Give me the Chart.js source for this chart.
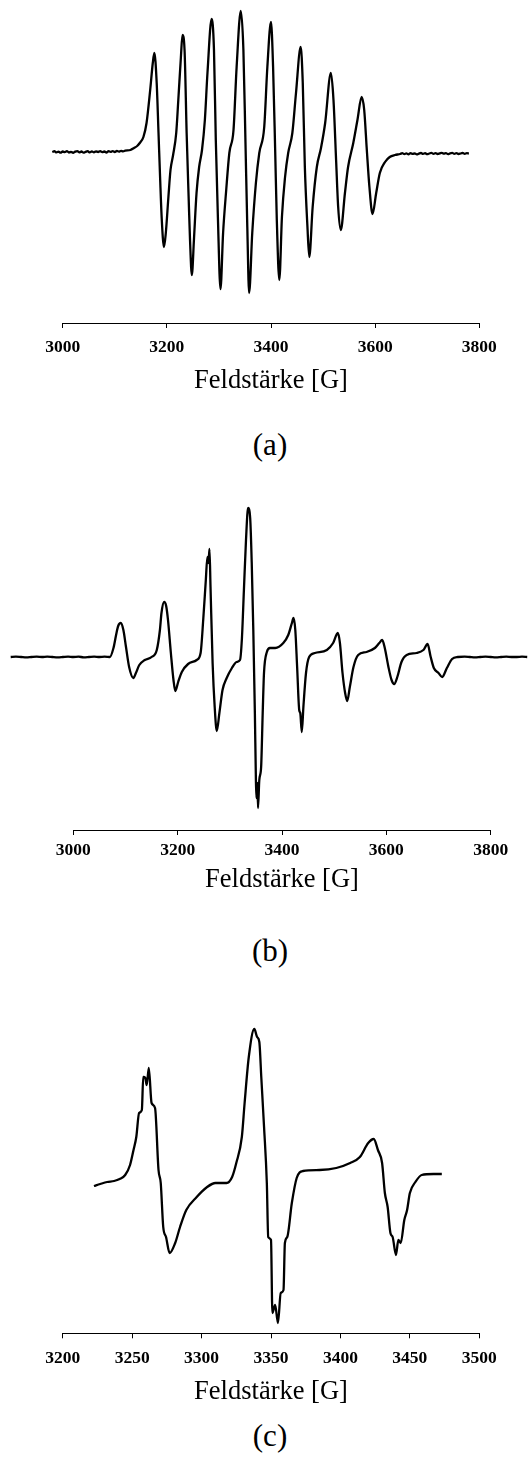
<!DOCTYPE html>
<html>
<head>
<meta charset="utf-8">
<title>ESR-Spektren</title>
<script src="https://cdn.jsdelivr.net/npm/chart.js@4"></script>
<style>
  html, body { margin: 0; padding: 0; background: #fff; }
  body { width: 528px; height: 1458px; position: relative; overflow: hidden; }
  canvas { position: absolute; left: 0; }
  .cap { position: absolute; left: 0; width: 540px; text-align: center;
         font: 31px/31px 'Liberation Serif', 'Times New Roman', serif; color: #000; }
</style>
</head>
<body>
<canvas id="chartA" width="528" height="400" style="top:0px"></canvas>
<div class="cap" style="top:429px">(a)</div>
<canvas id="chartB" width="528" height="430" style="top:470px"></canvas>
<div class="cap" style="top:935px">(b)</div>
<canvas id="chartC" width="528" height="422" style="top:990px"></canvas>
<div class="cap" style="top:1420px">(c)</div>

<script>
// tick values of the field axes [G]
const ticksWide = [3000, 3200, 3400, 3600, 3800];
const ticksNarrow = [3200, 3250, 3300, 3350, 3400, 3450, 3500];
const axisLabel = 'Feldstärke [G]';

// spectra: [field in G, signal in arbitrary units]
const spectrumA = [
  [2980,0],[2984,0.8],[2988,-0.4],[2992,0.3],[2996,-0.7],[3000,0.5],[3004,-0.2],[3008,0.9],[3012,-0.5],[3016,0.2],
  [3020,-0.8],[3024,0.4],[3028,0.9],[3032,-0.3],[3036,0.5],[3040,-0.6],[3044,0.2],[3048,0.8],[3052,-0.4],[3056,0.6],
  [3060,-0.3],[3064,0.7],[3068,0],[3072,0.9],[3076,-0.2],[3080,0.5],[3084,-0.5],[3088,0.8],[3092,0.1],[3096,0.9],
  [3100,0],[3104,1],[3108,0.4],[3112,1.2],[3116,0.6],[3120,1.3],
  [3130,2],[3137,4],[3143,6],[3148,9],[3155,15],[3161,29],[3168,62],[3173,89],[3176,99],
  [3180.5,69],[3184,19],[3187,-25],[3190,-65],[3194.5,-95],
  [3198,-81],[3203,-45],[3207,-18],[3212,-3],[3218,19],[3222,52],[3227,95],[3230,117],
  [3234,102],[3238,19],[3242,-48],[3244.5,-88],[3248,-123],
  [3252,-88],[3257,-41],[3262,-15],[3267.5,2],[3273,32],[3278,79],[3286,133],
  [3290.5,102],[3294,12],[3298,-65],[3303,-137],
  [3308,-81],[3314,-38],[3320,-1],[3328,22],[3334,85],[3342,141],
  [3347,102],[3351,9],[3354.5,-75],[3358,-141],
  [3364,-81],[3371,-31],[3377.5,-1],[3387,25],[3393,85],[3400,130],
  [3404,85],[3408,2],[3411,-65],[3416,-128],
  [3421,-65],[3427,-25],[3433,-1],[3441,19],[3448,59],[3457,105],
  [3461,69],[3465,-15],[3470,-75],[3473.5,-105],
  [3480,-55],[3488,-15],[3496,4],[3504,29],[3515,79],
  [3520,52],[3525,-8],[3529,-55],[3534,-78],
  [3542,-41],[3548,-15],[3558,9],[3566,32],[3574,55],
  [3579,42],[3584,2],[3589,-35],[3595,-62],
  [3602,-41],[3609,-21],[3619,-10],[3628,-5],[3638,-3],[3648,-2],
  [3652,-1.2],[3656,-2.1],[3660,-1.4],[3664,-2.3],[3668,-1.1],[3672,-1.9],[3676,-1.3],[3680,-2.4],
  [3684,-1.6],[3688,-1],[3692,-1.9],[3696,-1.2],[3700,-2.2],[3704,-1.5],[3708,-0.9],[3712,-1.8],
  [3716,-1.1],[3720,-2],[3724,-1.4],[3728,-0.8],[3732,-1.7],[3736,-1.2],[3740,-2.1],[3744,-1.3],
  [3748,-0.9],[3752,-1.8],[3756,-1.1],[3760,-2],[3764,-1.5],[3768,-0.8],[3772,-1.9],[3776,-1.2],[3780,-1.6]
];

const spectrumB = [
  [2880,0],[2890,0.4],[2900,0],[2910,-0.4],[2920,0],[2930,0.3],[2940,0],[2950,0.4],[2960,0],[2970,-0.3],
  [2980,0],[2990,0.4],[3000,0],[3010,0.3],[3020,-0.3],[3030,0],[3040,0.4],[3050,0],[3060,0.3],[3070,0],
  [3077,9],[3082,22],[3086,31],[3091,34],[3096,27],[3101,10],[3107,-10],[3115,-21],
  [3120,-16],[3126.5,-8],[3137,-3],[3150,0],[3160,7],[3166,27],[3169,44],[3174,55],
  [3178,51],[3181.5,37],[3187,4],[3192,-23],[3195.5,-34],
  [3201,-25],[3208,-15],[3220,-7],[3236.5,-3],[3244,4],[3249,37],[3254,77],[3257,100],[3259,94],[3261,108],
  [3263,70],[3267,-6],[3271,-50],[3275,-74],
  [3280,-56],[3286,-33],[3294,-21],[3304,-11],[3313,-5],[3319.5,-3],[3323,17],[3327,67],[3331,117],[3335,149],
  [3339,139],[3342,94],[3345,27],[3348,-56],[3350,-123],[3351,-141],[3353,-126],[3354,-151],
  [3356.5,-123],[3360,-110],[3363,-56],[3365.5,-16],[3371,5],[3377,9],[3387,9],[3402.5,14],[3412,22],[3419,34],[3422,39],
  [3425.5,27],[3429,-10],[3433,-53],[3435,-56],[3438,-75],
  [3441,-50],[3446,-16],[3452,0],[3463,4],[3486,7],[3498,14],[3507,24],
  [3511,14],[3516,-16],[3521,-36],[3525,-44],
  [3530,-30],[3537,-10],[3546,2],[3562,5],[3578,9],[3586.5,14],[3592,17],
  [3597,9],[3604,-10],[3610,-23],[3615,-27],
  [3621,-20],[3629,-5],[3639,2],[3658,4],[3671,7],[3679,13],
  [3685,0],[3691,-11],[3700,-16],[3707,-20],
  [3716,-11],[3726,-2],[3737,0],[3750,0.3],[3760,0],[3770,-0.3],[3780,0],[3790,0.3],[3800,0],
  [3810,-0.3],[3820,0],[3830,0.3],[3840,0],[3850,0],[3860,0.3],[3870,0]
];

const spectrumC = [
  [3222.5,-6],[3227,-4],[3232,-2],[3237,-1],[3241,1],[3245,5],[3248.5,15],[3251,30],[3253,43],
  [3255,67],[3257,70],[3258,103],[3259.5,102],[3260.5,95],[3262,112],
  [3264,77],[3266.5,72],[3269,10],[3270.6,-3],[3272.4,-47],[3274.4,-57],[3277,-73],
  [3281,-63],[3284.5,-47],[3289,-30],[3296.5,-17],[3304,-7],[3310,-3],[3318,-3],[3322,3],
  [3325,17],[3329,43],[3331,77],[3334,123],[3338,151],
  [3340,143],[3341.6,138],[3343,103],[3345,53],[3347,-3],[3348,-57],[3350,-60],[3351,-133],[3353,-125],[3355,-143],
  [3357,-113],[3359,-110],[3360,-63],[3361.7,-57],[3365,-23],[3368.5,2],[3373,9],[3385,10],[3397,12],
  [3407,17],[3414,23],[3420,37],[3424,41],
  [3427,30],[3430,17],[3432,-13],[3434,-27],[3436,-53],[3437.6,-57],[3440,-75],
  [3441.7,-60],[3443.4,-63],[3446,-40],[3448,-30],[3450,-13],[3454,-2],[3458.5,5],[3467,6],[3473,6]
];

function drawSpectrum(canvasId, points, ticks, p) {
  const ctx = document.getElementById(canvasId).getContext('2d');
  return new Chart(ctx, {
    type: 'line',
    data: {
      datasets: [{
        data: points.map(([x, y]) => ({ x, y })),
        borderColor: '#000',
        borderWidth: 2.3,
        pointRadius: 0,
        fill: false,
        clip: false,
        cubicInterpolationMode: 'monotone'
      }]
    },
    options: {
      responsive: false,
      animation: false,
      devicePixelRatio: 1,
      layout: { padding: p.padding },
      plugins: { legend: { display: false }, tooltip: { enabled: false } },
      scales: {
        x: {
          type: 'linear',
          bounds: 'data',
          // range set here (not via min/max) so points outside the axis are still drawn
          afterDataLimits: s => { s.min = ticks[0]; s.max = ticks[ticks.length - 1]; },
          afterBuildTicks: s => { s.ticks = ticks.map(v => ({ value: v })); },
          afterFit: s => { s.height = p.axisHeight; },
          grid: { drawOnChartArea: false, drawTicks: true, tickLength: 5, color: '#000', lineWidth: 1 },
          border: { display: true, color: '#000', width: 1 },
          ticks: {
            padding: p.tickPad,
            color: '#000',
            maxRotation: 0,
            autoSkip: false,
            font: { family: 'Liberation Serif', size: 17.5, weight: 'bold' },
            callback: v => String(v)
          },
          title: {
            display: true,
            text: axisLabel,
            color: '#000',
            padding: 0,
            font: { family: 'Liberation Serif', size: 26.5 }
          }
        },
        y: { display: false, min: p.yMin, max: p.yMax }
      }
    }
  });
}

drawSpectrum('chartA', spectrumA, ticksWide, {
  padding: { left: 62.7, right: 48.7, top: 0, bottom: 3.1 },
  axisHeight: 73.9, tickPad: 8.8, yMin: -171, yMax: 152
});
drawSpectrum('chartB', spectrumB, ticksWide, {
  padding: { left: 73.3, right: 37.3, top: 0, bottom: 4.1 },
  axisHeight: 65.9, tickPad: 4.8, yMin: -173, yMax: 187
});
drawSpectrum('chartC', spectrumC, ticksNarrow, {
  padding: { left: 62.7, right: 48.7, top: 0, bottom: 3.8 },
  axisHeight: 74.9, tickPad: 9.8, yMin: -153.3, yMax: 190
});
</script>
</body>
</html>
